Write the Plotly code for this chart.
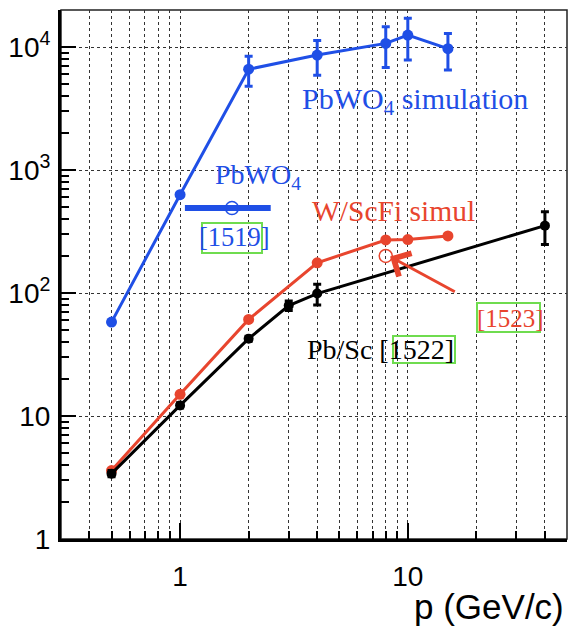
import plotly.graph_objects as go

# ---- data -------------------------------------------------------------
# PbWO4 simulation (blue)
pbwo4_p = [0.5, 1, 2, 4, 8, 10, 15]
pbwo4_r = [58, 630, 6600, 8600, 10700, 12500, 9700]
pbwo4_err = [0, 0, 1800, 2700, 3900, 4650, 3200]

# W/ScFi simulation (red)
wscfi_p = [0.5, 1, 2, 4, 8, 10, 15]
wscfi_r = [3.6, 15, 61, 176, 270, 272, 291]

# Pb/Sc measurement (black)
pbsc_p = [0.5, 1, 2, 3, 4, 40]
pbsc_r = [3.4, 12.2, 42.5, 79, 99, 353]
pbsc_err = [0.2, 0.6, 2, 7, 19, 105]

# single measurements
pbwo4_meas_p = [1.69]
pbwo4_meas_r = [490]
pbwo4_meas_lo = [0.64]
pbwo4_meas_hi = [0.81]
wscfi_meas_p = [8.0]
wscfi_meas_r = [200]

# axis ticks
x_major = [1, 10]
x_major_text = ["1", "10"]
x_minor = [0.4, 0.5, 0.6, 0.7, 0.8, 0.9, 2, 3, 4, 5, 6, 7, 8, 9, 20, 30, 40]
y_major = [1, 10, 100, 1000, 10000]
y_major_text = ["1", "10", "10<sup>2</sup>", "10<sup>3</sup>", "10<sup>4</sup>"]
y_minor = [m * 10 ** d for d in range(4) for m in range(2, 10)]

BLUE = "#1f4fe6"
RED = "#e8452e"
GREEN = "#6fdc4f"
SERIF = "Liberation Serif, Times New Roman, serif"
SANS = "Liberation Sans, Arial, sans-serif"

# plot-area geometry in pixels (figure 570 x 626)
W, H = 570, 626
L, R, T, B = 61, 567, 10, 539


def px(x):
    return (x - L) / (R - L)


def py(y):
    return (B - y) / (B - T)


fig = go.Figure()

fig.add_trace(go.Scatter(
    x=pbwo4_p, y=pbwo4_r, mode="lines+markers",
    line=dict(color=BLUE, width=3),
    marker=dict(color=BLUE, size=11),
    error_y=dict(type="data", array=pbwo4_err, color=BLUE, thickness=3, width=4),
    showlegend=False))

fig.add_trace(go.Scatter(
    x=wscfi_p, y=wscfi_r, mode="lines+markers",
    line=dict(color=RED, width=3),
    marker=dict(color=RED, size=11),
    showlegend=False))

fig.add_trace(go.Scatter(
    x=pbsc_p, y=pbsc_r, mode="lines+markers",
    line=dict(color="black", width=3),
    marker=dict(color="black", size=10),
    error_y=dict(type="data", array=pbsc_err, color="black", thickness=3, width=4),
    showlegend=False))

fig.add_trace(go.Scatter(
    x=pbwo4_meas_p, y=pbwo4_meas_r, mode="markers",
    marker=dict(symbol="circle-open", color=BLUE, size=13, line=dict(width=1.5)),
    error_x=dict(type="data", symmetric=False, array=pbwo4_meas_hi,
                 arrayminus=pbwo4_meas_lo, color=BLUE, thickness=6, width=0),
    showlegend=False))

fig.add_trace(go.Scatter(
    x=wscfi_meas_p, y=wscfi_meas_r, mode="markers",
    marker=dict(symbol="circle-open", color=RED, size=13, line=dict(width=1.5)),
    showlegend=False))


# text labels
def label(text, x, y, color, size=28, family=SERIF, xanchor="left"):
    fig.add_annotation(text=text, x=px(x), y=py(y), xref="paper", yref="paper",
                       xanchor=xanchor, yanchor="middle", showarrow=False,
                       font=dict(family=family, size=size, color=color))


label("PbWO<sub>4</sub> simulation", 300, 101, BLUE, size=30)
label("PbWO<sub>4</sub>", 213, 176, BLUE)
label("[1519]", 197, 237, BLUE, size=26.5)
label("W/ScFi simul", 310, 211, RED, size=29.5)
label("[1523]", 475, 318, RED, size=25)
label("Pb/Sc [1522]", 305, 349, "black")
label("p (GeV/c)", 566, 606, "black", size=35, family=SANS, xanchor="right")

# link boxes around the reference numbers
for x0, y0, x1, y1 in [(202, 223, 262, 253), (477, 303, 540, 332), (393, 336, 455, 363)]:
    fig.add_shape(type="rect", xref="paper", yref="paper",
                  x0=px(x0), x1=px(x1), y0=py(y1), y1=py(y0),
                  line=dict(color=GREEN, width=2), layer="above")

# arrow pointing to the W/ScFi measurement
fig.add_annotation(x=0.922, y=2.296, ax=1.213, ay=2.004, xref="x", yref="y",
                   axref="x", ayref="y", showarrow=True, arrowhead=4,
                   arrowsize=1.7, arrowwidth=3, arrowcolor=RED, text="")

# frame
fig.add_shape(type="rect", xref="paper", yref="paper", x0=0, x1=1, y0=0, y1=1,
              line=dict(color="#222222", width=1.5), layer="below")

fig.update_xaxes(
    type="log", range=[-0.5229, 1.699],
    tickmode="array", tickvals=x_major, ticktext=x_major_text,
    ticks="inside", ticklen=16, tickwidth=2, tickcolor="black",
    showline=True, linewidth=3, linecolor="black",
    showgrid=True, gridcolor="#333333", griddash="dot", gridwidth=1,
    tickfont=dict(family=SANS, size=28, color="black"),
    ticklabelstandoff=10,
    minor=dict(tickmode="array", tickvals=x_minor, ticks="inside", ticklen=8,
               tickwidth=2, tickcolor="black", showgrid=True,
               gridcolor="#333333", griddash="dot", gridwidth=1),
    zeroline=False)

fig.update_yaxes(
    type="log", range=[0, 4.301],
    tickmode="array", tickvals=y_major, ticktext=y_major_text,
    ticks="inside", ticklen=15, tickwidth=2, tickcolor="black",
    showline=True, linewidth=3, linecolor="black",
    showgrid=True, gridcolor="#333333", griddash="dot", gridwidth=1,
    tickfont=dict(family=SANS, size=28, color="black"),
    ticklabelstandoff=2,
    minor=dict(tickmode="array", tickvals=y_minor, ticks="inside", ticklen=8,
               tickwidth=2, tickcolor="black", showgrid=False),
    zeroline=False)

fig.update_layout(
    width=W, height=H,
    margin=dict(l=L, r=W - R, t=T, b=H - B),
    paper_bgcolor="white", plot_bgcolor="white",
)

fig.write_html("out.html")
